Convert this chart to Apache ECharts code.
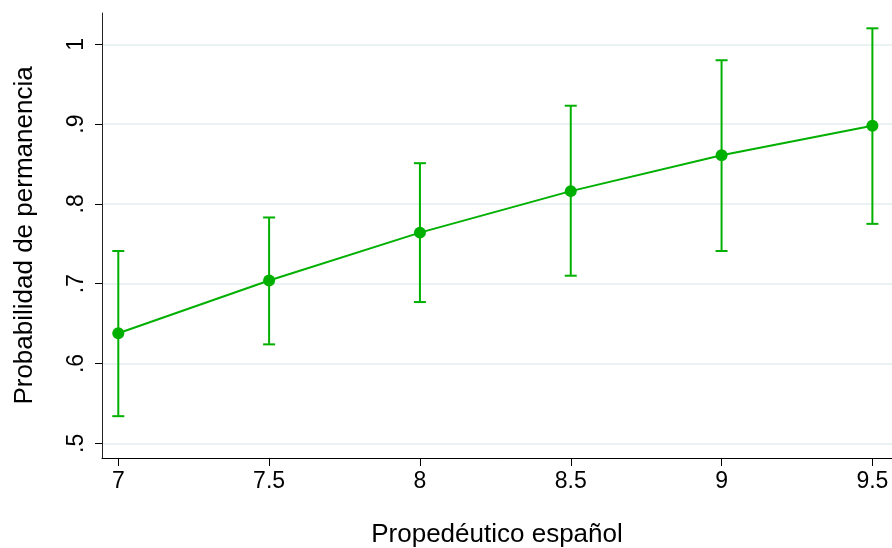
<!DOCTYPE html>
<html>
<head>
<meta charset="utf-8">
<script src="https://cdn.jsdelivr.net/npm/echarts@6/dist/echarts.min.js"></script>
<style>html,body{margin:0;padding:0;background:#fff}#c{width:892px;height:548px}</style>
</head>
<body>
<div id="c"></div>
<script>
const xValues = [7, 7.5, 8, 8.5, 9, 9.5];
const prob = [0.638, 0.704, 0.764, 0.816, 0.861, 0.898];
const lower = [0.534, 0.624, 0.677, 0.710, 0.741, 0.775];
const upper = [0.741, 0.783, 0.851, 0.923, 0.980, 1.020];
const yTicks = [0.5, 0.6, 0.7, 0.8, 0.9, 1];
const xTicks = [7, 7.5, 8, 8.5, 9, 9.5];

const green = '#00b000';
const font = "'Liberation Sans', Arial, Helvetica, sans-serif";

const chart = echarts.init(document.getElementById('c'), null, {renderer: 'canvas'});
chart.setOption({
  animation: false,
  backgroundColor: '#fff',
  grid: {left: 102, right: 0, top: 13, bottom: 90, containLabel: false, outerBoundsMode: 'none'},
  xAxis: {
    type: 'value', min: 6.946, max: 9.565,
    name: 'Propedéutico español', nameLocation: 'middle', nameGap: 64,
    nameTextStyle: {fontFamily: font, fontSize: 26, color: '#000'},
    axisLine: {show: true, onZero: false, lineStyle: {color: '#000', width: 1}},
    axisTick: {show: true, length: 8, customValues: xTicks, lineStyle: {color: '#000'}},
    axisLabel: {customValues: xTicks, margin: 12, fontFamily: font, fontSize: 23, color: '#000',
      formatter: v => String(v)},
    splitLine: {show: false}
  },
  yAxis: {
    type: 'value', min: 0.4816, max: 1.0392,
    name: 'Probabilidad de permanencia', nameLocation: 'middle', nameGap: 64,
    nameTextStyle: {fontFamily: font, fontSize: 26, color: '#000'},
    axisLine: {show: true, onZero: false, lineStyle: {color: '#222', width: 1}},
    axisTick: {show: true, length: 7, customValues: yTicks, lineStyle: {color: '#000'}},
    axisLabel: {customValues: yTicks, rotate: 90, margin: 14, fontFamily: font, fontSize: 23, color: '#000',
      formatter: v => { const s = String(Math.round(v * 10) / 10); return s.startsWith('0') ? s.slice(1) : s; }},
    splitLine: {show: true, lineStyle: {color: '#eaf2f3', width: 2}}
  },
  series: [
    {
      type: 'custom',
      data: xValues.map((x, i) => [x, lower[i], upper[i]]),
      renderItem: function (params, api) {
        const x = api.value(0);
        const lo = api.coord([x, api.value(1)]);
        const hi = api.coord([x, api.value(2)]);
        const hw = 6;
        const style = {stroke: green, lineWidth: 2};
        return {
          type: 'group',
          children: [
            {type: 'line', shape: {x1: lo[0], y1: lo[1], x2: hi[0], y2: hi[1]}, style},
            {type: 'line', shape: {x1: lo[0] - hw, y1: lo[1], x2: lo[0] + hw, y2: lo[1]}, style},
            {type: 'line', shape: {x1: hi[0] - hw, y1: hi[1], x2: hi[0] + hw, y2: hi[1]}, style}
          ]
        };
      },
      z: 2
    },
    {
      type: 'line',
      data: xValues.map((x, i) => [x, prob[i]]),
      symbol: 'circle', symbolSize: 12,
      lineStyle: {color: green, width: 2},
      itemStyle: {color: green},
      z: 3
    }
  ]
});
</script>
</body>
</html>
